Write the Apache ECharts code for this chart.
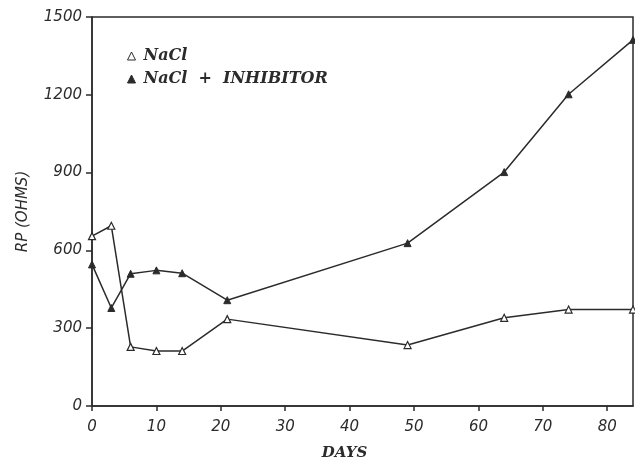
<!DOCTYPE html>
<html>
<head>
<meta charset="utf-8">
<script src="https://cdn.jsdelivr.net/npm/echarts@6/dist/echarts.min.js"></script>
<style>
  html, body { margin: 0; padding: 0; background: #fff; }
  #chart { width: 635px; height: 466px; }
</style>
</head>
<body>
<div id="chart"></div>
<script>
  'use strict'

  /*-----data-----*/
  var days = [0, 3, 6, 10, 14, 21, 49, 64, 74, 84];
  var naclRp = [655, 695, 228, 212, 212, 335, 235, 340, 372, 372];
  var inhibitorRp = [546, 378, 510, 523, 512, 408, 628, 902, 1202, 1412];
  var yTicks = [0, 300, 600, 900, 1200, 1500];
  var seriesNames = ['NaCl', 'NaCl  +  INHIBITOR'];

  function pairs(xs, ys) {
    return xs.map(function (x, i) { return [x, ys[i]]; });
  }

  var ink = '#2b2b2b';
  var tickFont = {
    fontFamily: 'DejaVu Sans',
    fontStyle: 'italic',
    fontSize: 15,
    color: ink
  };

  var option = {
    backgroundColor: '#fff',
    animation: false,
    grid: {
      left: 92,
      right: 2,
      top: 17,
      bottom: 58,
      show: true,
      borderColor: ink,
      borderWidth: 1.5,
      backgroundColor: 'transparent'
    },
    legend: {
      orient: 'vertical',
      left: 122,
      top: 43,
      itemWidth: 8,
      itemHeight: 8,
      itemGap: 7,
      icon: 'triangle',
      textStyle: {
        fontFamily: 'DejaVu Serif',
        fontStyle: 'italic',
        fontWeight: 'bold',
        fontSize: 16,
        lineHeight: 16,
        padding: [0, 0, 0, 3],
        color: ink
      },
      data: [
        { name: seriesNames[0], itemStyle: { color: '#fff', borderColor: ink, borderWidth: 1 } },
        { name: seriesNames[1], itemStyle: { color: ink, borderColor: ink, borderWidth: 1 } }
      ]
    },
    xAxis: {
      type: 'value',
      min: 0,
      max: 84,
      interval: 10,
      name: 'DAYS',
      nameLocation: 'middle',
      nameGap: 40,
      nameTextStyle: {
        fontFamily: 'DejaVu Serif',
        fontStyle: 'italic',
        fontWeight: 'bold',
        fontSize: 15,
        color: ink,
        padding: [0, 36, 0, 0]
      },
      splitLine: { show: false },
      axisLine: { lineStyle: { color: ink, width: 1.5 } },
      axisTick: { show: true, length: 5, lineStyle: { color: ink, width: 1.5 } },
      axisLabel: Object.assign({
        margin: 14,
        showMaxLabel: false,
        formatter: function (v) { return v % 10 === 0 ? String(v) : ''; }
      }, tickFont)
    },
    yAxis: {
      type: 'value',
      min: yTicks[0],
      max: yTicks[yTicks.length - 1],
      interval: 300,
      name: 'RP (OHMS)',
      nameLocation: 'middle',
      nameGap: 61,
      nameTextStyle: Object.assign({}, tickFont, { fontSize: 15 }),
      splitLine: { show: false },
      axisLine: { show: true, lineStyle: { color: ink, width: 1.5 } },
      axisTick: { show: true, length: 6, lineStyle: { color: ink, width: 1.5 } },
      axisLabel: Object.assign({
        margin: 10,
        formatter: function (v) { return String(v); }
      }, tickFont)
    },
    series: [
      {
        name: seriesNames[0],
        type: 'line',
        data: pairs(days, naclRp),
        symbol: 'triangle',
        symbolSize: 7,
        lineStyle: { color: ink, width: 1.5 },
        itemStyle: { color: '#fff', borderColor: ink, borderWidth: 1.2 }
      },
      {
        name: seriesNames[1],
        type: 'line',
        data: pairs(days, inhibitorRp),
        symbol: 'triangle',
        symbolSize: 7,
        lineStyle: { color: ink, width: 1.5 },
        itemStyle: { color: ink, borderColor: ink, borderWidth: 1 }
      }
    ]
  };

  var chart = echarts.init(document.getElementById('chart'));
  chart.setOption(option);
</script>
</body>
</html>
